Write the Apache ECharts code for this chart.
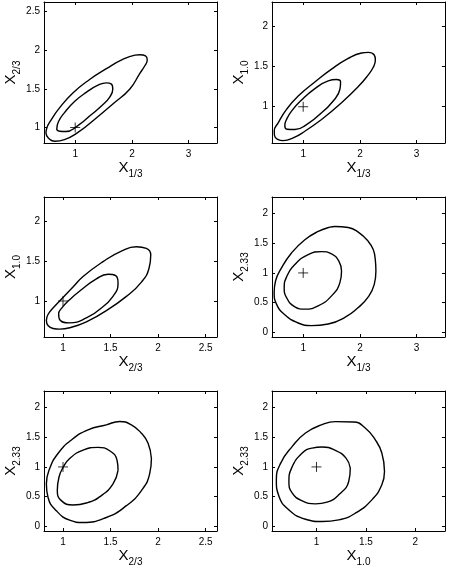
<!DOCTYPE html>
<html>
<head>
<meta charset="utf-8">
<script src="https://cdn.jsdelivr.net/npm/echarts@6/dist/echarts.min.js"></script>
<style>
html,body{margin:0;padding:0;background:#fff}
#chart{width:449px;height:568px}
</style>
</head>
<body>
<div id="chart"></div>
<script>
// axis variables: range + tick values
const rangeX13 = [0.45, 3.5];
const ticksX13 = [1, 2, 3];
const rangeX23 = [0.8, 2.62];
const ticksX23 = [1, 1.5, 2, 2.5];
const rangeX10 = [0.55, 2.3];
const ticksX10 = [1, 1.5, 2];
const rangeX233 = [-0.08, 2.28];
const ticksX233 = [0, 0.5, 1, 1.5, 2];

// true value (the + mark)
const truePoint = [[1, 1]];

// contours, outer and inner, per panel
const p1Outer = [[1.314,1.087],[1.669,1.306],[1.964,1.498],[2.14,1.70],[2.23,1.80],[2.27,1.87],[2.24,1.925],[2.14,1.94],[2.053,1.934],[1.846,1.882],[1.550,1.760],[1.254,1.620],[0.959,1.445],[0.720,1.250],[0.574,1.096],[0.497,0.987],[0.485,0.925],[0.530,0.862],[0.640,0.822],[0.811,0.843],[1.018,0.921],[1.314,1.087]];
const p1Inner = [[1.254,1.148],[1.462,1.279],[1.609,1.393],[1.663,1.498],[1.633,1.563],[1.550,1.576],[1.402,1.546],[1.195,1.454],[0.988,1.336],[0.811,1.192],[0.704,1.074],[0.675,0.980],[0.725,0.952],[0.840,0.948],[1.018,1.009],[1.254,1.148]];

const p2Outer = [[1.324,0.842],[1.676,1.050],[1.971,1.250],[2.130,1.380],[2.235,1.490],[2.272,1.580],[2.250,1.645],[2.147,1.675],[2.029,1.667],[1.794,1.600],[1.500,1.467],[1.206,1.308],[0.912,1.133],[0.706,0.967],[0.559,0.800],[0.490,0.700],[0.495,0.640],[0.550,0.595],[0.647,0.579],[0.824,0.613],[1.029,0.696],[1.324,0.842]];
const p2Inner = [[1.324,0.925],[1.529,1.071],[1.647,1.217],[1.659,1.308],[1.588,1.338],[1.441,1.321],[1.206,1.225],[0.971,1.083],[0.794,0.946],[0.706,0.842],[0.676,0.767],[0.715,0.720],[0.853,0.717],[1.059,0.779],[1.324,0.925]];

const p3Outer = [[1.456,0.880],[1.667,1.058],[1.825,1.236],[1.905,1.409],[1.923,1.574],[1.877,1.657],[1.772,1.678],[1.614,1.624],[1.421,1.492],[1.211,1.306],[1.105,1.174],[1.0,1.045],[0.912,0.934],[0.842,0.831],[0.825,0.757],[0.842,0.694],[0.895,0.657],[0.965,0.649],[1.070,0.665],[1.246,0.740],[1.456,0.880]];
const p3Inner = [[1.404,0.913],[1.526,1.058],[1.579,1.223],[1.554,1.318],[1.474,1.335],[1.351,1.277],[1.193,1.140],[1.070,1.017],[0.982,0.905],[0.954,0.839],[0.970,0.760],[1.070,0.727],[1.246,0.789],[1.404,0.913]];

const p4Outer = [[2.271,1.226],[2.282,1.031],[2.253,0.808],[2.147,0.596],[1.971,0.418],[1.735,0.251],[1.441,0.139],[1.147,0.111],[0.912,0.156],[0.676,0.295],[0.529,0.474],[0.488,0.669],[0.512,0.864],[0.618,1.086],[0.794,1.337],[1.029,1.560],[1.265,1.699],[1.471,1.772],[1.559,1.783],[1.794,1.766],[1.971,1.688],[2.147,1.532],[2.235,1.393],[2.271,1.226]];
const p4Inner = [[1.676,1.031],[1.647,0.836],[1.500,0.613],[1.265,0.446],[1.029,0.390],[0.853,0.429],[0.706,0.585],[0.665,0.752],[0.706,0.930],[0.853,1.142],[1.088,1.309],[1.324,1.359],[1.500,1.320],[1.629,1.198],[1.676,1.031]];

const p5Outer = [[1.930,1.142],[1.912,0.886],[1.825,0.602],[1.667,0.347],[1.456,0.148],[1.211,0.063],[1.070,0.102],[0.930,0.261],[0.842,0.489],[0.825,0.716],[0.860,0.972],[0.947,1.227],[1.088,1.455],[1.263,1.625],[1.456,1.710],[1.596,1.767],[1.719,1.710],[1.825,1.568],[1.895,1.398],[1.930,1.142]];
const p5Inner = [[1.579,0.943],[1.526,0.716],[1.404,0.517],[1.246,0.392],[1.105,0.358],[0.982,0.432],[0.940,0.602],[0.958,0.830],[1.0,0.989],[1.070,1.142],[1.211,1.284],[1.368,1.330],[1.491,1.273],[1.568,1.114],[1.579,0.943]];

const p6Outer = [[1.688,0.924],[1.661,0.699],[1.560,0.445],[1.393,0.220],[1.225,0.107],[1.057,0.079],[0.889,0.118],[0.721,0.276],[0.621,0.501],[0.594,0.783],[0.638,1.065],[0.755,1.346],[0.889,1.572],[1.057,1.713],[1.191,1.763],[1.376,1.758],[1.493,1.656],[1.594,1.459],[1.661,1.234],[1.688,0.924]];
const p6Inner = [[1.342,0.980],[1.326,0.755],[1.225,0.530],[1.107,0.406],[0.990,0.377],[0.856,0.428],[0.755,0.558],[0.721,0.755],[0.748,0.980],[0.856,1.234],[0.956,1.318],[1.057,1.335],[1.191,1.279],[1.299,1.149],[1.342,0.980]];

const FONT = 'Liberation Sans, Arial, Helvetica, sans-serif';

// which variable goes on which axis, per panel
const vars = {
  '1/3': [rangeX13, ticksX13],
  '2/3': [rangeX23, ticksX23],
  '1.0': [rangeX10, ticksX10],
  '2.33': [rangeX233, ticksX233]
};
const panels = [
  {box: [44, 2, 173, 141],   x: '1/3', y: '2/3',  outer: p1Outer, inner: p1Inner},
  {box: [272, 2, 173, 141],  x: '1/3', y: '1.0',  outer: p2Outer, inner: p2Inner},
  {box: [44, 197, 173, 140], x: '2/3', y: '1.0',  outer: p3Outer, inner: p3Inner},
  {box: [272, 197, 173, 140],x: '1/3', y: '2.33', outer: p4Outer, inner: p4Inner},
  {box: [44, 391, 173, 140], x: '2/3', y: '2.33', outer: p5Outer, inner: p5Inner},
  {box: [272, 391, 173, 140],x: '1.0', y: '2.33', outer: p6Outer, inner: p6Inner}
];

const nameRich = {
  x: {fontSize: 15, fontFamily: FONT, color: '#000', lineHeight: 15, verticalAlign: 'top'},
  s: {fontSize: 10, fontFamily: FONT, color: '#000', lineHeight: 10, padding: [9, 0, 0, 0], verticalAlign: 'top'}
};

function makeAxis(pos, gi, v, main, vertical) {
  let range = vars[v][0], ticks = vars[v][1];
  return {
    type: 'value', gridIndex: gi, position: pos,
    min: range[0], max: range[1],
    name: main ? '{x|X}{s|' + v + '}' : '',
    nameLocation: 'middle',
    nameRotate: vertical ? 90 : 0,
    nameGap: vertical ? 25 : 10,
    nameTextStyle: {rich: nameRich},
    axisLine: {show: true, onZero: false, lineStyle: {color: '#000', width: 1}},
    axisTick: {show: true, inside: true, length: 3, customValues: ticks, lineStyle: {color: '#000', width: 1}},
    axisLabel: {show: main, customValues: ticks, margin: vertical ? 4 : 6, fontSize: 10, color: '#000', fontFamily: FONT},
    splitLine: {show: false}
  };
}

let grid = [], xAxis = [], yAxis = [], series = [];
panels.forEach(function(p, i) {
  grid.push({left: p.box[0], top: p.box[1], width: p.box[2], height: p.box[3], containLabel: false});
  xAxis.push(makeAxis('bottom', i, p.x, true, false));
  xAxis.push(makeAxis('top', i, p.x, false, false));
  yAxis.push(makeAxis('left', i, p.y, true, true));
  yAxis.push(makeAxis('right', i, p.y, false, true));
  [p.outer, p.inner].forEach(function(c) {
    series.push({
      type: 'line', xAxisIndex: 2 * i, yAxisIndex: 2 * i,
      data: c, smooth: 0.5, symbol: 'none', silent: true,
      lineStyle: {color: '#000', width: 1.4}
    });
  });
  series.push({
    type: 'scatter', xAxisIndex: 2 * i, yAxisIndex: 2 * i,
    data: truePoint, symbol: 'path://M0,5L10,5M5,0L5,10', symbolSize: 10, silent: true,
    itemStyle: {color: 'none', borderColor: '#000', borderWidth: 1}
  });
});

let myChart = echarts.init(document.getElementById('chart'), null, {renderer: 'canvas'});
myChart.setOption({
  animation: false,
  backgroundColor: '#fff',
  grid: grid,
  xAxis: xAxis,
  yAxis: yAxis,
  series: series
});
</script>
</body>
</html>
